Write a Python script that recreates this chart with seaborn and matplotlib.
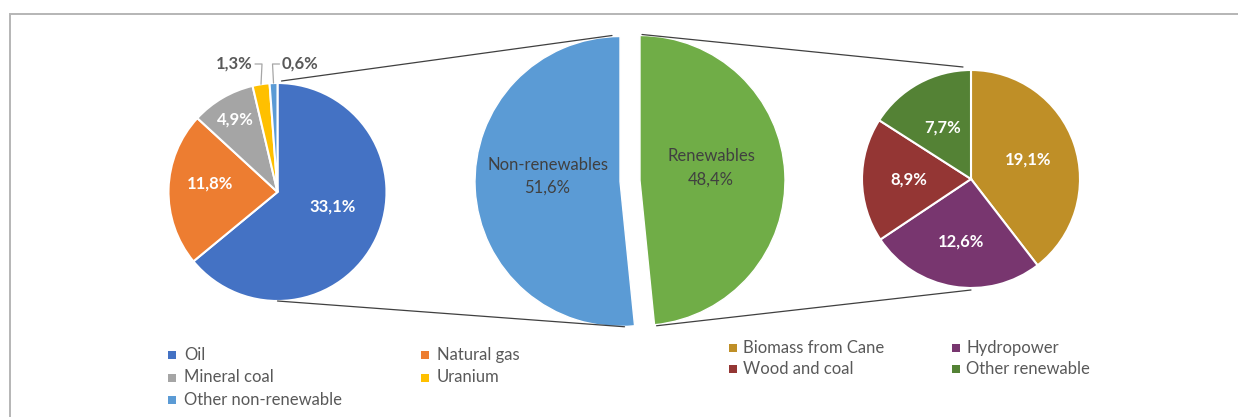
import numpy as np
import matplotlib
matplotlib.use("Agg")
import matplotlib.pyplot as plt
import seaborn as sns

# --- data -------------------------------------------------------------
nonren_labels = ["Oil", "Natural gas", "Mineral coal", "Uranium", "Other non-renewable"]
nonren_values = [33.1, 11.8, 4.9, 1.3, 0.6]

split_labels = ["Renewables", "Non-renewables"]
split_values = [48.4, 51.6]

ren_labels = ["Biomass from Cane", "Hydropower", "Wood and coal", "Other renewable"]
ren_values = [19.1, 12.6, 8.9, 7.7]

# --- style ------------------------------------------------------------
sns.set_theme(style="white")
plt.rcParams["font.family"] = ["Lato", "DejaVu Sans"]

nonren_colors = sns.color_palette(["#4472C4", "#ED7D31", "#A5A5A5", "#FFC000", "#5B9BD5"])
split_colors = sns.color_palette(["#70AD47", "#5B9BD5"])
ren_colors = sns.color_palette(["#BF8F27", "#78366F", "#943634", "#548235"])

W, H = 1238, 417
fig = plt.figure(figsize=(W / 100, H / 100), dpi=100)
ax = fig.add_axes([0, 0, 1, 1])


def fmt(v):
    return f"{v:.1f}".replace(".", ",") + "%"


def py(y):
    return H - y


wedge_kw = dict(edgecolor="white", linewidth=1.5)
FS = 12
TXT = "#595959"

# left pie: non-renewable sources
L_c, L_r = (277.5, py(192)), 109
lw, _ = ax.pie(nonren_values, colors=nonren_colors, startangle=90, counterclock=False,
               radius=L_r, center=L_c, wedgeprops=wedge_kw, frame=True)
inner_pos = [0.52, 0.62, 0.77]
inner_rot = [10, -6, 0]  # small angular nudges for label placement
for w, v, f, rot in zip(lw[:3], nonren_values[:3], inner_pos, inner_rot):
    a = np.deg2rad((w.theta1 + w.theta2) / 2 + rot)
    ax.text(L_c[0] + f * L_r * np.cos(a), L_c[1] + f * L_r * np.sin(a), fmt(v),
            ha="center", va="center", color="white", fontsize=FS, fontweight="bold")

# small slices labelled outside with leader lines
for w, v, dx in zip(lw[3:], nonren_values[3:], [-1, 1]):
    a = np.deg2rad((w.theta1 + w.theta2) / 2)
    ex, ey = L_c[0] + L_r * np.cos(a), L_c[1] + L_r * np.sin(a)
    ty = py(64)
    kx = ex - 1 * dx
    ax.plot([ex, kx, kx + 7 * dx], [ey, ty, ty], color="#A6A6A6", lw=0.9)
    ax.text(kx + 9 * dx, ty, fmt(v), ha="right" if dx < 0 else "left", va="center",
            color=TXT, fontsize=FS, fontweight="bold")

# middle pie: renewable vs non-renewable split
M_c, M_r = (630, py(181)), 145
mw, _ = ax.pie(split_values, colors=split_colors, startangle=90, counterclock=False,
               radius=M_r, center=M_c, explode=[10, 10], frame=True)
for w, lab, v, f in zip(mw, split_labels, split_values, [0.49, 0.50]):
    a = np.deg2rad((w.theta1 + w.theta2) / 2)
    ax.text(w.center[0] + f * M_r * np.cos(a), w.center[1] + f * M_r * np.sin(a) + 9,
            f"{lab}\n{fmt(v)}", ha="center", va="center", color="#404040",
            fontsize=FS, linespacing=1.55)

# right pie: renewable sources
R_c, R_r = (971, py(179)), 109
rw, _ = ax.pie(ren_values, colors=ren_colors, startangle=90, counterclock=False,
               radius=R_r, center=R_c, wedgeprops=wedge_kw, frame=True)
for w, v, f in zip(rw, ren_values, [0.55, 0.58, 0.57, 0.54]):
    a = np.deg2rad((w.theta1 + w.theta2) / 2)
    ax.text(R_c[0] + f * R_r * np.cos(a), R_c[1] + f * R_r * np.sin(a), fmt(v),
            ha="center", va="center", color="white", fontsize=FS, fontweight="bold")


# connector lines between the pies
def vertex(w, ang_deg, r):
    a = np.deg2rad(ang_deg)
    return w.center[0] + r * np.cos(a), w.center[1] + r * np.sin(a)


nr = mw[1]  # non-renewables half
rn = mw[0]  # renewables half
split_angle = rn.theta1  # lower boundary shared by both halves
line_kw = dict(color="#404040", lw=0.9)
top_l = vertex(nr, 90, M_r)
bot_l = vertex(nr, split_angle, M_r)
top_r = vertex(rn, 90, M_r)
bot_r = vertex(rn, split_angle, M_r)
ax.plot([L_c[0] + 4, top_l[0] - 8], [L_c[1] + L_r + 2, top_l[1] + 1], **line_kw)
ax.plot([L_c[0], bot_l[0] - 10], [L_c[1] - L_r, bot_l[1] - 1], **line_kw)
ax.plot([top_r[0] + 2, R_c[0] - 8], [top_r[1] + 1, R_c[1] + R_r + 3], **line_kw)
ax.plot([bot_r[0] + 2, R_c[0]], [bot_r[1] - 1, R_c[1] - R_r - 2], **line_kw)


# legends
def legend_block(labels, colors, x0, col_dx, y0, row_dy, gap):
    for i, (lab, c) in enumerate(zip(labels, colors)):
        x = x0 + (i % 2) * col_dx
        y = py(y0 + (i // 2) * row_dy)
        ax.scatter([x], [y], marker="s", s=40, color=c, linewidths=0)
        ax.text(x + gap, y, lab, ha="left", va="center", color=TXT, fontsize=FS)


legend_block(nonren_labels, nonren_colors, 172, 253, 355, 22.5, 12)
legend_block(ren_labels, ren_colors, 733, 223, 348, 21, 10)

ax.set_xlim(0, W)
ax.set_ylim(0, H)
ax.set_aspect("equal")
ax.axis("off")

# outer frame
fig.add_artist(plt.Rectangle((10 / W, -0.1), 1.2, (H - 14) / H + 0.1, transform=fig.transFigure,
                             fill=False, edgecolor="#B5B5B5", lw=1.4))

fig.savefig("out.png", dpi=100, facecolor="white")
